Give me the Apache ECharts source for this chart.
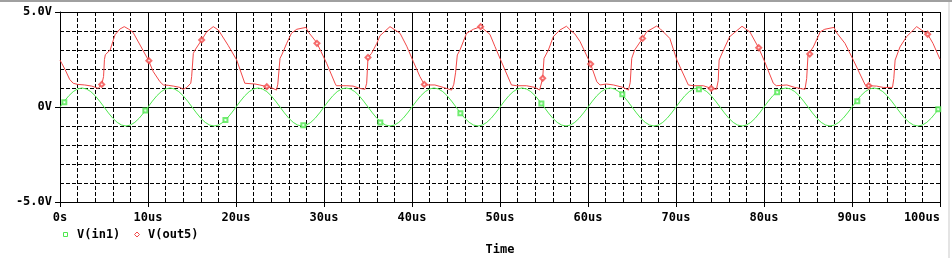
<!DOCTYPE html>
<html>
<head>
<meta charset="utf-8">
<script src="https://cdn.jsdelivr.net/npm/echarts@6/dist/echarts.min.js"></script>
<style>
html,body{margin:0;padding:0;background:#fff;}
#c{width:952px;height:258px;}
</style>
</head>
<body>
<div id="c"></div>
<script>
// ---- data (time in us, voltage in V) ----
var seriesNames = ['V(in1)', 'V(out5)'];
var xTicks = [0, 10, 20, 30, 40, 50, 60, 70, 80, 90, 100];
var xTickLabels = ['0s', '10us', '20us', '30us', '40us', '50us', '60us', '70us', '80us', '90us', '100us'];
var yTicks = [-5, 0, 5];
var yTickLabels = ['-5.0V', '0V', '5.0V'];
var xTitle = 'Time';

// V(in1): samples every 0.5 us from 0 to 100 us
var inStep = 0.5;
var inValues = [
 0,0.31,0.59,0.81,0.95,1,0.95,0.81,0.59,0.31,0,-0.31,-0.59,-0.81,-0.95,-1,-0.95,-0.81,-0.59,-0.31,
 0,0.31,0.59,0.81,0.95,1,0.95,0.81,0.59,0.31,0,-0.31,-0.59,-0.81,-0.95,-1,-0.95,-0.81,-0.59,-0.31,
 0,0.31,0.59,0.81,0.95,1,0.95,0.81,0.59,0.31,0,-0.31,-0.59,-0.81,-0.95,-1,-0.95,-0.81,-0.59,-0.31,
 0,0.31,0.59,0.81,0.95,1,0.95,0.81,0.59,0.31,0,-0.31,-0.59,-0.81,-0.95,-1,-0.95,-0.81,-0.59,-0.31,
 0,0.31,0.59,0.81,0.95,1,0.95,0.81,0.59,0.31,0,-0.31,-0.59,-0.81,-0.95,-1,-0.95,-0.81,-0.59,-0.31,
 0,0.31,0.59,0.81,0.95,1,0.95,0.81,0.59,0.31,0,-0.31,-0.59,-0.81,-0.95,-1,-0.95,-0.81,-0.59,-0.31,
 0,0.31,0.59,0.81,0.95,1,0.95,0.81,0.59,0.31,0,-0.31,-0.59,-0.81,-0.95,-1,-0.95,-0.81,-0.59,-0.31,
 0,0.31,0.59,0.81,0.95,1,0.95,0.81,0.59,0.31,0,-0.31,-0.59,-0.81,-0.95,-1,-0.95,-0.81,-0.59,-0.31,
 0,0.31,0.59,0.81,0.95,1,0.95,0.81,0.59,0.31,0,-0.31,-0.59,-0.81,-0.95,-1,-0.95,-0.81,-0.59,-0.31,
 0,0.31,0.59,0.81,0.95,1,0.95,0.81,0.59,0.31,0,-0.31,-0.59,-0.81,-0.95,-1,-0.95,-0.81,-0.59,-0.31,
 0
];
var inMarkers = [[0.49,0.25],[9.7,-0.19],[18.8,-0.68],[27.65,-0.96],[36.4,-0.81],[45.5,-0.33],[54.7,0.19],[63.9,0.67],[72.6,0.93],[81.5,0.77],[90.6,0.3],[99.8,-0.12]];

// V(out5): [time, value] points
var outPoints = [
 [0,2.47],[0.2,2.3],[0.6,1.95],[1.1,1.45],[1.5,1.25],[2.0,1.19],[2.8,1.16],[3.6,1.1],[4.35,0.98],[4.55,1.1],[4.8,1.3],[4.95,1.6],[5.05,2.5],[5.15,2.75],[5.7,3.0],[6.25,3.8],[6.8,4.1],[7.3,4.23],[7.8,4.1],[8.3,3.93],[9.1,3.26],[10.04,2.47],
 [10.6,1.86],[11.36,1.33],[11.74,1.16],[12.3,1.14],[12.88,1.1],[13.64,1.03],[14.0,0.93],[14.2,0.93],[14.4,1.03],[14.86,1.25],[14.96,1.6],[15.15,2.82],[15.34,3.0],[16.1,3.53],[16.67,3.96],[17.42,4.23],[18.0,4.05],[18.18,3.96],[19.1,3.25],[20.08,2.47],
 [21.0,1.25],[21.2,1.16],[22.16,1.21],[22.7,1.16],[23.5,1.07],[24.2,0.98],[24.6,0.89],[24.75,1.2],[25.0,2.56],[25.2,2.74],[25.76,3.35],[26.3,3.88],[26.9,4.09],[27.95,4.19],[28.2,3.96],[29.17,3.39],[30.3,2.3],
 [31.25,1.25],[31.4,1.12],[32.6,1.12],[33.3,1.1],[34.1,0.98],[34.66,0.93],[34.85,1.25],[35.0,2.61],[35.4,2.82],[36.0,3.35],[36.36,3.75],[37.5,4.23],[38.64,3.88],[39.4,3.2],[40.15,2.39],
 [40.9,1.6],[41.4,1.19],[41.67,1.16],[42.6,1.16],[43.56,1.03],[44.5,0.89],[44.75,1.2],[44.95,1.8],[45.15,2.74],[45.45,3.0],[46.2,3.88],[46.97,4.09],[47.8,4.23],[48.86,3.82],[49.43,3.18],[50.08,2.47],
 [51.3,1.16],[51.9,1.12],[53.0,1.12],[53.98,1.03],[54.5,0.89],[54.85,1.51],[55.0,2.56],[55.5,3.0],[56.06,3.7],[56.8,4.05],[57.55,4.25],[58.1,4.0],[58.5,3.85],[59.1,3.44],[60.3,2.26],
 [61.0,1.33],[61.36,1.16],[62.1,1.21],[62.9,1.16],[64.0,1.03],[64.6,0.89],[64.8,1.3],[64.97,2.56],[65.3,3.0],[66.2,3.61],[66.67,3.96],[67.8,4.26],[68.2,4.12],[69.3,3.61],[70.1,2.47],
 [71.4,1.16],[71.97,1.12],[73.1,1.12],[74.0,0.98],[74.6,0.93],[74.8,1.4],[74.9,2.47],[75.4,3.0],[76.1,3.7],[77.5,4.25],[78.4,3.95],[79.35,3.15],[80.0,2.47],
 [81.06,1.25],[81.4,1.12],[82.6,1.16],[83.5,1.03],[84.66,0.93],[84.85,1.5],[85.0,2.74],[85.2,2.79],[85.6,3.16],[86.4,3.96],[86.9,4.09],[87.95,4.19],[88.3,3.88],[89.2,3.35],[90.15,2.47],
 [91.5,1.16],[91.9,1.12],[92.8,1.1],[93.56,1.03],[94.6,1.03],[94.75,1.5],[94.9,2.47],[95.45,3.16],[96.2,3.7],[97.35,4.23],[97.9,4.05],[98.6,3.83],[99.2,3.35],[100,2.51]
];
var outMarkers = [[4.74,1.19],[10.1,2.44],[16.1,3.53],[23.5,1.07],[29.2,3.35],[35.0,2.61],[41.4,1.19],[47.8,4.23],[54.85,1.51],[60.3,2.26],[66.2,3.61],[74.0,0.98],[79.4,3.12],[85.2,2.79],[91.9,1.12],[98.6,3.83]];

// ---- build ----
var inPoints = inValues.map(function (v, i) { return [i * inStep, v]; });
var FONT = '"DejaVu Sans Mono", monospace';
var GREEN = '#4ee84e';
var RED = '#f24848';
var dash = [4, 2];

var chart = echarts.init(document.getElementById('c'), null, {renderer: 'canvas'});
chart.setOption({
  animation: false,
  backgroundColor: '#ffffff',
  grid: {left: 60, right: 12, top: 12, height: 190, show: false, containLabel: false, outerBoundsMode: 'none'},
  xAxis: {
    type: 'value', min: 0, max: 100, interval: 10,
    axisLine: {show: true, onZero: false, lineStyle: {color: '#000', width: 1}},
    axisTick: {show: true, length: 5, lineStyle: {color: '#000'}},
    minorTick: {show: false, splitNumber: 5},
    axisLabel: {
      margin: 10, color: '#000', fontFamily: FONT, fontWeight: 'bold', fontSize: 12,
      alignMaxLabel: 'right',
      formatter: function (v) { var i = xTicks.indexOf(v); return i >= 0 ? xTickLabels[i] : ''; }
    },
    splitLine: {show: true, lineStyle: {color: '#000', width: 1, type: 'solid'}},
    minorSplitLine: {show: true, lineStyle: {color: '#000', width: 1, type: dash}},
    name: xTitle, nameLocation: 'middle', nameGap: 42,
    nameTextStyle: {color: '#000', fontFamily: FONT, fontWeight: 'bold', fontSize: 12}
  },
  yAxis: {
    type: 'value', min: -5, max: 5, interval: 5,
    axisLine: {show: true, onZero: false, lineStyle: {color: '#000', width: 1}},
    axisTick: {show: true, length: 5, lineStyle: {color: '#000'}},
    minorTick: {show: false, splitNumber: 5},
    axisLabel: {
      margin: 8, color: '#000', fontFamily: FONT, fontWeight: 'bold', fontSize: 12,
      formatter: function (v) { var i = yTicks.indexOf(v); return i >= 0 ? yTickLabels[i] : ''; }
    },
    splitLine: {show: true, lineStyle: {color: '#000', width: 1, type: 'solid'}},
    minorSplitLine: {show: true, lineStyle: {color: '#000', width: 1, type: dash}}
  },
  series: [
    {
      name: seriesNames[0], type: 'line', data: inPoints, showSymbol: false, z: 3,
      lineStyle: {color: GREEN, width: 1}, itemStyle: {color: GREEN}
    },
    {
      name: seriesNames[0] + ' markers', type: 'scatter', data: inMarkers, z: 4,
      symbol: 'emptyRect', symbolSize: 4, itemStyle: {color: GREEN, borderWidth: 1}
    },
    {
      name: seriesNames[1], type: 'line', data: outPoints, showSymbol: false, z: 3,
      lineStyle: {color: RED, width: 1}, itemStyle: {color: RED}
    },
    {
      name: seriesNames[1] + ' markers', type: 'scatter', data: outMarkers, z: 4,
      symbol: 'emptyDiamond', symbolSize: 5, itemStyle: {color: RED, borderWidth: 1}
    }
  ],
  graphic: [
    {type: 'rect', shape: {x: 0, y: 0, width: 952, height: 2}, style: {fill: '#a0a0a0'}, silent: true},
    {type: 'rect', shape: {x: 948, y: 2, width: 2, height: 256}, style: {fill: '#e4e4e4'}, silent: true},
    {type: 'rect', shape: {x: 63.5, y: 232.5, width: 4, height: 4}, style: {fill: '#fff', stroke: GREEN, lineWidth: 1}},
    {type: 'text', left: 77, top: 229, style: {text: seriesNames[0], fill: '#000', font: 'bold 12px ' + FONT}},
    {type: 'polygon', shape: {points: [[137, 232], [139.5, 234.5], [137, 237], [134.5, 234.5]]}, style: {fill: '#fff', stroke: RED, lineWidth: 1}},
    {type: 'text', left: 148, top: 229, style: {text: seriesNames[1], fill: '#000', font: 'bold 12px ' + FONT}}
  ]
});
</script>
</body>
</html>
